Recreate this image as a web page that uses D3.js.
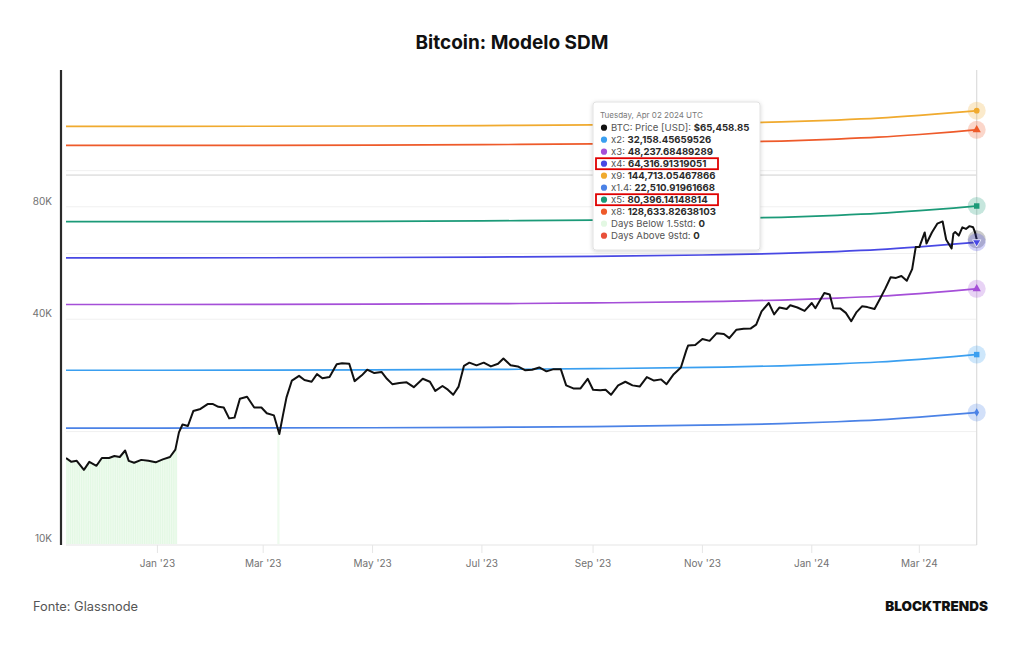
<!DOCTYPE html>
<html lang="pt">
<head>
<meta charset="utf-8">
<title>Bitcoin: Modelo SDM</title>
<script src="https://d3js.org/d3.v7.min.js"></script>
<style>
  body { margin: 0; background: #fff; }
  svg { display: block; font-family: Inter, "Noto Sans", sans-serif; }
  .tick-label { fill: #727272; font-size: 10px; }
</style>
</head>
<body>
<div id="chart"></div>
<script>
// ---- data ----
var priceDates = ["2022-11-11","2022-11-14","2022-11-17","2022-11-21","2022-11-24","2022-11-28","2022-12-01","2022-12-05","2022-12-08","2022-12-11","2022-12-14","2022-12-16","2022-12-19","2022-12-23","2022-12-27","2022-12-31",
  "2023-01-04","2023-01-08","2023-01-11","2023-01-13","2023-01-15","2023-01-18","2023-01-21","2023-01-25","2023-01-29","2023-02-01","2023-02-04","2023-02-07","2023-02-10","2023-02-13","2023-02-16","2023-02-20","2023-02-24","2023-02-28",
  "2023-03-03","2023-03-07","2023-03-10","2023-03-12","2023-03-14","2023-03-17","2023-03-21","2023-03-24","2023-03-28","2023-03-31","2023-04-03","2023-04-07","2023-04-11","2023-04-14","2023-04-18","2023-04-21","2023-04-25","2023-04-28",
  "2023-05-02","2023-05-06","2023-05-09","2023-05-12","2023-05-16","2023-05-20","2023-05-24","2023-05-29","2023-06-02","2023-06-05","2023-06-09","2023-06-12","2023-06-15","2023-06-18","2023-06-21","2023-06-24","2023-06-28",
  "2023-07-02","2023-07-06","2023-07-10","2023-07-13","2023-07-17","2023-07-21","2023-07-25","2023-07-29","2023-08-02","2023-08-06","2023-08-10","2023-08-14","2023-08-17","2023-08-21","2023-08-25","2023-08-29",
  "2023-09-01","2023-09-05","2023-09-08","2023-09-11","2023-09-15","2023-09-19","2023-09-23","2023-09-27","2023-10-01","2023-10-05","2023-10-09","2023-10-12","2023-10-16","2023-10-20","2023-10-23","2023-10-24","2023-10-28",
  "2023-11-01","2023-11-05","2023-11-09","2023-11-13","2023-11-16","2023-11-20","2023-11-24","2023-11-28","2023-12-01","2023-12-04","2023-12-08","2023-12-11","2023-12-14","2023-12-18","2023-12-20","2023-12-24","2023-12-28",
  "2024-01-01","2024-01-03","2024-01-08","2024-01-11","2024-01-13","2024-01-17","2024-01-20","2024-01-23","2024-01-26","2024-01-29","2024-02-01","2024-02-05","2024-02-08","2024-02-11","2024-02-14","2024-02-17","2024-02-20","2024-02-23","2024-02-26","2024-02-28",
  "2024-03-01","2024-03-04","2024-03-05","2024-03-08","2024-03-11","2024-03-14","2024-03-16","2024-03-19","2024-03-20","2024-03-21","2024-03-23","2024-03-25","2024-03-27","2024-03-29","2024-03-31","2024-04-01","2024-04-02"];
var priceValues = [17000,16600,16700,15800,16600,16200,17000,17000,17200,17100,17800,16700,16500,16800,16700,16550,
  16850,17100,17900,19900,20900,20700,22700,23000,23700,23700,23300,23200,21700,21800,24500,24800,23200,23200,
  22400,22100,19700,22100,24700,27400,28200,27500,27200,28500,27800,28000,30300,30500,30400,27300,28300,29300,
  28700,28900,27700,26800,27000,27100,26300,27700,27200,25700,26500,25900,25100,26400,30000,30600,30100,
  30600,29900,30400,31400,30100,29900,29200,29300,29700,29000,29400,29400,26600,26100,26100,27700,
  25900,25800,25900,25100,26600,27200,26600,26400,28000,27400,27600,26800,28500,29700,33000,34000,34100,
  35400,35000,36700,36500,35600,37500,37700,37800,38700,42000,44200,41200,43000,42600,43600,43000,42100,
  44200,42800,47000,46600,42800,42700,41600,39500,41800,43300,43100,42600,45300,48300,51800,51600,52200,50700,54500,62400,
  62400,68300,63800,68300,72100,73100,65300,61900,67800,68500,67000,70500,69800,71000,70500,68500,65458.85];

// SDM base (price / multiple)
var baseDates = ["2022-11-11","2023-01-01","2023-03-01","2023-05-01","2023-07-01","2023-09-01","2023-11-01","2023-12-15","2024-01-15","2024-02-07","2024-03-01","2024-03-20","2024-04-02"];
var baseValues = [14600,14600,14610,14630,14670,14740,14860,15000,15180,15360,15620,15880,16079.2283];

var bandNames = ["x9","x8","x5","x4","x3","x2","x1.4"];
var bandMultiples = [9,8,5,4,3,2,1.4];
var bandColors = ["#f0aa2e","#ee5a2a","#1b9a78","#4848e4","#a54fd8","#3a9ff0","#4b82e6"];
var bandSymbols = ["circle","triangle","square","triangleDown","triangle","square","diamond"];

// days where price sat below the 1.5std band
var belowRanges = [["2022-11-11","2023-01-12"],["2023-03-09","2023-03-10"]];

var yGrid = [20000,40000,60000,80000,100000];
var yTicks = [10000,40000,80000];
var xTicks = ["2023-01-01","2023-03-01","2023-05-01","2023-07-01","2023-09-01","2023-11-01","2024-01-01","2024-03-01"];
var crossValue = 97300;

var tipTitle = "Tuesday, Apr 02 2024 UTC";
var tipLabels = ["BTC: Price [USD]:","x2:","x3:","x4:","x9:","x1.4:","x5:","x8:","Days Below 1.5std:","Days Above 9std:"];
var tipValues = ["$65,458.85","32,158.45659526","48,237.68489289","64,316.91319051","144,713.05467866","22,510.91961668","80,396.14148814","128,633.82638103","0","0"];
var tipColors = ["#111111","#3a9ff0","#a54fd8","#4848e4","#f0aa2e","#4b82e6","#1b9a78","#ee5a2a","#e3f8e3","#e8503a"];
var tipHighlight = [false,false,false,true,false,false,true,false,false,false];

// ---- chart ----
var width = 1024, height = 645;
var pLeft = 66, pRight = 976.7, pTop = 70, pBottom = 544;
var parse = d3.utcParse("%Y-%m-%d");

var svg = d3.select("#chart").append("svg")
  .attr("width", width)
  .attr("height", height);

var defs = svg.append("defs");
defs.append("clipPath").attr("id", "plot")
  .append("rect").attr("x", pLeft).attr("y", pTop).attr("width", pRight - pLeft + 12).attr("height", pBottom - pTop);
var stripe = defs.append("pattern").attr("id", "stripes")
  .attr("patternUnits", "userSpaceOnUse").attr("width", 1.8).attr("height", 10);
stripe.append("rect").attr("width", 1.8).attr("height", 10).attr("fill", "#f3fcf3");
stripe.append("rect").attr("width", 1.1).attr("height", 10).attr("fill", "#e2f8e3");
var shadow = defs.append("filter").attr("id", "shadow").attr("x", "-10%").attr("y", "-10%").attr("width", "130%").attr("height", "130%");
shadow.append("feDropShadow").attr("dx", 0).attr("dy", 1).attr("stdDeviation", 2).attr("flood-color", "#000").attr("flood-opacity", 0.18);

var x = d3.scaleUtc()
  .domain([parse("2022-11-11"), parse("2024-04-02")])
  .range([pLeft, pRight]);
var y = d3.scaleLog()
  .domain([10000, 186000])
  .range([pBottom, pTop]);

var price = priceDates.map(function(d, i){ return {date: parse(d), value: priceValues[i]}; });
var base = baseDates.map(function(d, i){ return {date: parse(d), value: baseValues[i]}; });

// title
svg.append("text")
  .attr("x", 512).attr("y", 49)
  .attr("text-anchor", "middle")
  .style("font-size", "19px").style("font-weight", 700).style("fill", "#111")
  .text("Bitcoin: Modelo SDM");

// grid
svg.append("g").selectAll("line").data(yGrid).enter().append("line")
  .attr("x1", pLeft).attr("x2", pRight)
  .attr("y1", function(d){ return y(d); }).attr("y2", function(d){ return y(d); })
  .attr("stroke", "#f0f0f0").attr("stroke-width", 1);

svg.append("line")
  .attr("x1", pLeft).attr("x2", pRight)
  .attr("y1", y(crossValue)).attr("y2", y(crossValue))
  .attr("stroke", "#cfcfcf").attr("stroke-width", 1);

// x axis baseline + ticks
svg.append("line")
  .attr("x1", pLeft).attr("x2", pRight).attr("y1", pBottom + 1).attr("y2", pBottom + 1)
  .attr("stroke", "#e6e6e6").attr("stroke-width", 1.2);
var xg = svg.append("g").selectAll("g").data(xTicks).enter().append("g")
  .attr("transform", function(d){ return "translate(" + x(parse(d)) + ",0)"; });
xg.append("line").attr("y1", pBottom + 1).attr("y2", pBottom + 9).attr("stroke", "#e6e6e6");
xg.append("text").attr("class", "tick-label")
  .attr("y", pBottom + 23).attr("text-anchor", "middle")
  .text(function(d){ return d3.utcFormat("%b '%y")(parse(d)); });

// y labels
svg.append("g").selectAll("text").data(yTicks).enter().append("text")
  .attr("class", "tick-label")
  .attr("x", 52).attr("y", function(d){ return y(d) - 2; })
  .attr("text-anchor", "end")
  .text(function(d){ return (d / 1000) + "K"; });

// right crosshair
svg.append("line")
  .attr("x1", pRight).attr("x2", pRight).attr("y1", pTop).attr("y2", pBottom + 1)
  .attr("stroke", "#dcdcdc").attr("stroke-width", 1.2);

var plot = svg.append("g").attr("clip-path", "url(#plot)");

// days below 1.5std
var under = d3.area()
  .x(function(d){ return x(d.date); })
  .y0(pBottom)
  .y1(function(d){ return y(d.value); });
belowRanges.forEach(function(r, i){
  var a = parse(r[0]), b = parse(r[1]);
  defs.append("clipPath").attr("id", "below" + i)
    .append("rect")
    .attr("x", x(a)).attr("y", pTop)
    .attr("width", Math.max(1.5, x(b) - x(a))).attr("height", pBottom - pTop);
  plot.append("path")
    .datum(price)
    .attr("clip-path", "url(#below" + i + ")")
    .attr("d", under)
    .attr("fill", "url(#stripes)");
});

// SDM bands
var bandLine = d3.line()
  .x(function(d){ return x(d.date); })
  .y(function(d){ return y(d.value); })
  .curve(d3.curveMonotoneX);

bandNames.forEach(function(name, i){
  var m = bandMultiples[i];
  plot.append("path")
    .datum(base.map(function(d){ return {date: d.date, value: d.value * m}; }))
    .attr("d", bandLine)
    .attr("fill", "none")
    .attr("stroke", bandColors[i])
    .attr("stroke-width", 1.7);
});

// BTC price
plot.append("path")
  .datum(price)
  .attr("d", d3.line().x(function(d){ return x(d.date); }).y(function(d){ return y(d.value); }))
  .attr("fill", "none")
  .attr("stroke", "#111")
  .attr("stroke-width", 2)
  .attr("stroke-linejoin", "round");

// end markers
var lastBase = base[base.length - 1];
var lastPrice = price[price.length - 1];
var symbolTypes = {circle: d3.symbolCircle, triangle: d3.symbolTriangle, square: d3.symbolSquare, diamond: d3.symbolDiamond, triangleDown: d3.symbolTriangle};
var markers = svg.append("g");

markers.append("circle")
  .attr("cx", x(lastPrice.date)).attr("cy", y(lastPrice.value)).attr("r", 9)
  .attr("fill", "#111").attr("fill-opacity", 0.22);

bandNames.forEach(function(name, i){
  var cx = x(lastBase.date), cy = y(lastBase.value * bandMultiples[i]);
  markers.append("circle")
    .attr("cx", cx).attr("cy", cy).attr("r", 9)
    .attr("fill", bandColors[i]).attr("fill-opacity", 0.25);
  var size = bandSymbols[i] == "circle" ? 26 : bandSymbols[i] == "diamond" ? 20 : 30;
  markers.append("path")
    .attr("d", d3.symbol().type(symbolTypes[bandSymbols[i]]).size(size))
    .attr("transform", "translate(" + cx + "," + cy + ")" + (bandSymbols[i] == "triangleDown" ? " rotate(180)" : ""))
    .attr("fill", bandColors[i])
    .attr("stroke", bandSymbols[i] == "triangleDown" ? "#fff" : "none")
    .attr("stroke-width", 0.8);
});

// y axis line
svg.append("line")
  .attr("x1", 61).attr("x2", 61).attr("y1", pTop).attr("y2", pBottom + 1)
  .attr("stroke", "#2a2a2a").attr("stroke-width", 2.2);

// tooltip
var tip = svg.append("g").attr("transform", "translate(593,102)");
tip.append("rect")
  .attr("width", 167).attr("height", 148).attr("rx", 3)
  .attr("fill", "#fff").attr("stroke", "#dadada").attr("stroke-width", 0.8)
  .attr("filter", "url(#shadow)");
tip.append("text")
  .attr("x", 7).attr("y", 16)
  .style("font-size", "8px").style("fill", "#7a7a7a")
  .text(tipTitle);

var rows = tip.selectAll("g.row").data(tipLabels).enter().append("g")
  .attr("class", "row")
  .attr("transform", function(d, i){ return "translate(0," + (25.7 + i * 12) + ")"; });
rows.append("circle")
  .attr("cx", 11).attr("cy", 0).attr("r", 3.1)
  .attr("fill", function(d, i){ return tipColors[i]; });
var rowText = rows.append("text")
  .attr("x", 18).attr("y", 3.4)
  .style("font-size", "9.6px").style("fill", "#555");
rowText.append("tspan").text(function(d){ return d + " "; });
rowText.append("tspan")
  .style("font-weight", 700).style("fill", "#2a2a2a")
  .text(function(d, i){ return tipValues[i]; });
rows.filter(function(d, i){ return tipHighlight[i]; })
  .append("rect")
  .attr("x", 3).attr("y", -5.5).attr("width", 122).attr("height", 11)
  .attr("fill", "none").attr("stroke", "#e00000").attr("stroke-width", 1.8);

// footer
svg.append("text")
  .attr("x", 33).attr("y", 611)
  .style("font-size", "12.8px").style("fill", "#555")
  .text("Fonte: Glassnode");
svg.append("text")
  .attr("x", 988).attr("y", 611)
  .attr("text-anchor", "end")
  .style("font-size", "13.5px").style("font-weight", 900).style("fill", "#111")
  .text("BLOCKTRENDS");
</script>
</body>
</html>
